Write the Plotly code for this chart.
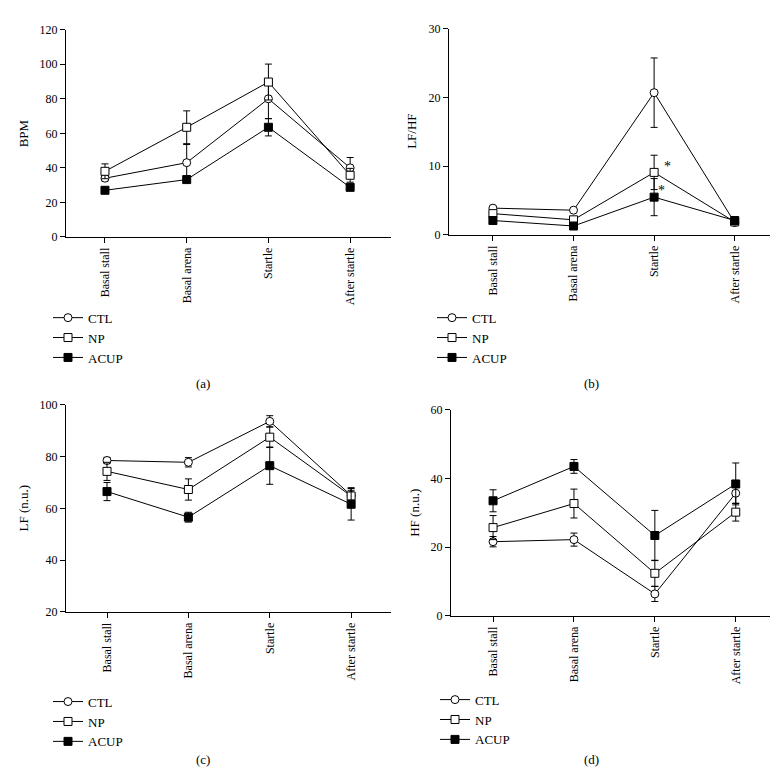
import plotly.graph_objects as go

categories = ["Basal stall", "Basal arena", "Startle", "After startle"]
series_names = ["CTL", "NP", "ACUP"]

# Panel (a) BPM
bpm_ctl = [34, 43, 80, 40]
bpm_np = [38, 63.5, 89.7, 35.7]
bpm_acup = [27, 33.2, 63.5, 28.7]
bpm_ctl_err = [1.5, 10.5, 11.5, 6]
bpm_np_err = [4.3, 9.5, 10.4, 4]
bpm_acup_err = [1, 1.5, 5, 1]

# Panel (b) LF/HF
lfhf_ctl = [3.9, 3.6, 20.7, 1.8]
lfhf_np = [3.1, 2.2, 9.1, 1.9]
lfhf_acup = [2.1, 1.3, 5.5, 2.1]
lfhf_ctl_err = [0.2, 0.2, 5.05, 0.2]
lfhf_np_err = [0.2, 0.2, 2.5, 0.2]
lfhf_acup_err = [0.2, 0.2, 2.7, 0.2]

# Panel (c) LF (n.u.)
lf_ctl = [78.5, 77.8, 93.6, 65]
lf_np = [74.3, 67.3, 87.5, 64.8]
lf_acup = [66.5, 56.6, 76.5, 61.6]
lf_ctl_err = [1.2, 1.8, 2.2, 2]
lf_np_err = [3.5, 4.1, 4.0, 3.2]
lf_acup_err = [3.5, 1.9, 7.2, 6.1]

# Panel (d) HF (n.u.)
hf_ctl = [21.6, 22.2, 6.4, 35.7]
hf_np = [25.7, 32.7, 12.4, 30.2]
hf_acup = [33.5, 43.5, 23.4, 38.4]
hf_ctl_err = [1.5, 1.9, 2.2, 3]
hf_np_err = [3.5, 4.2, 3.8, 2.6]
hf_acup_err = [3.2, 2.0, 7.3, 6.1]

panels = [
    dict(vals=[bpm_ctl, bpm_np, bpm_acup], errs=[bpm_ctl_err, bpm_np_err, bpm_acup_err],
         ytitle="BPM", yrange=[0, 120], dtick=20, label="(a)"),
    dict(vals=[lfhf_ctl, lfhf_np, lfhf_acup], errs=[lfhf_ctl_err, lfhf_np_err, lfhf_acup_err],
         ytitle="LF/HF", yrange=[0, 30], dtick=10, label="(b)"),
    dict(vals=[lf_ctl, lf_np, lf_acup], errs=[lf_ctl_err, lf_np_err, lf_acup_err],
         ytitle="LF (n.u.)", yrange=[20, 100], dtick=20, label="(c)"),
    dict(vals=[hf_ctl, hf_np, hf_acup], errs=[hf_ctl_err, hf_np_err, hf_acup_err],
         ytitle="HF (n.u.)", yrange=[0, 60], dtick=20, label="(d)"),
]

W, H = 778, 773
FONT = "Liberation Serif"

# layout geometry in pixels: (left, right, top, bottom, xrange)
geom = [
    (58, 383, 15, 226, [-0.477, 3.50]),
    (441, 767, 14, 224, [-0.545, 3.50]),
    (58, 383, 397, 608, [-0.504, 3.49]),
    (443, 769, 402, 612, [-0.52, 3.51]),
]
ytitle_x = [15, 404, 15, 407]
legend_pos = [(40, 293), (424, 293), (40, 684), (427, 682)]
label_pos = [(195, 375), (583, 375), (195, 758), (583, 758)]

symbols = ["circle", "square", "square"]
fills = ["white", "white", "black"]

fig = go.Figure()
layout = {}
annotations = []
xs = list(range(len(categories)))

for i, p in enumerate(panels):
    ax = "" if i == 0 else str(i + 1)
    lg = "legend" if i == 0 else f"legend{i + 1}"
    for k in range(3):
        fig.add_trace(go.Scatter(
            x=xs, y=p["vals"][k], name=series_names[k],
            mode="lines+markers",
            line=dict(color="black", width=1),
            marker=dict(symbol=symbols[k], size=8, color=fills[k],
                        line=dict(color="black", width=1)),
            error_y=dict(type="data", array=p["errs"][k], visible=True,
                         color="black", thickness=1, width=3.5),
            xaxis="x" + ax, yaxis="y" + ax, legend=lg,
        ))
    l, r, t, b, xr = geom[i]
    layout["xaxis" + ax] = dict(
        domain=[l / W, r / W], range=xr, anchor="y" + ax,
        tickvals=xs, ticktext=categories, tickangle=-90,
        showline=True, linecolor="black", linewidth=1,
        ticks="outside", ticklen=5, tickcolor="black", tickwidth=1,
        showgrid=False, zeroline=False,
        tickfont=dict(family=FONT, size=12, color="black"),
    )
    layout["yaxis" + ax] = dict(
        domain=[1 - b / H, 1 - t / H], range=p["yrange"], dtick=p["dtick"],
        anchor="x" + ax,
        showline=True, linecolor="black", linewidth=1,
        ticks="outside", ticklen=5, tickcolor="black", tickwidth=1,
        showgrid=False, zeroline=False,
        tickfont=dict(family=FONT, size=12, color="black"),
    )
    lx, ly = legend_pos[i]
    layout[lg] = dict(
        x=lx / W, y=1 - ly / H, xanchor="left", yanchor="top",
        font=dict(family=FONT, size=13, color="black"),
        bgcolor="rgba(0,0,0,0)", tracegroupgap=0, itemwidth=30,
    )
    annotations.append(dict(
        text=p["ytitle"], textangle=-90, x=ytitle_x[i] / W, y=1 - ((t + b) / 2) / H,
        xref="paper", yref="paper", showarrow=False, xanchor="center", yanchor="middle",
        font=dict(family=FONT, size=13, color="black"),
    ))
    cx, cy = label_pos[i]
    annotations.append(dict(
        text=p["label"], x=cx / W, y=1 - cy / H, xref="paper", yref="paper",
        showarrow=False, xanchor="center", yanchor="middle",
        font=dict(family=FONT, size=13, color="black"),
    ))

# significance asterisks in panel (b)
annotations.append(dict(text="*", x=2.16, y=10.0, xref="x2", yref="y2", showarrow=False,
                        font=dict(family=FONT, size=14, color="black")))
annotations.append(dict(text="*", x=2.09, y=6.4, xref="x2", yref="y2", showarrow=False,
                        font=dict(family=FONT, size=14, color="black")))

fig.update_layout(
    width=W, height=H, margin=dict(l=0, r=0, t=0, b=0),
    paper_bgcolor="white", plot_bgcolor="white",
    showlegend=True, annotations=annotations,
    font=dict(family=FONT, size=13, color="black"),
    **layout,
)

fig.write_html("out.html")
